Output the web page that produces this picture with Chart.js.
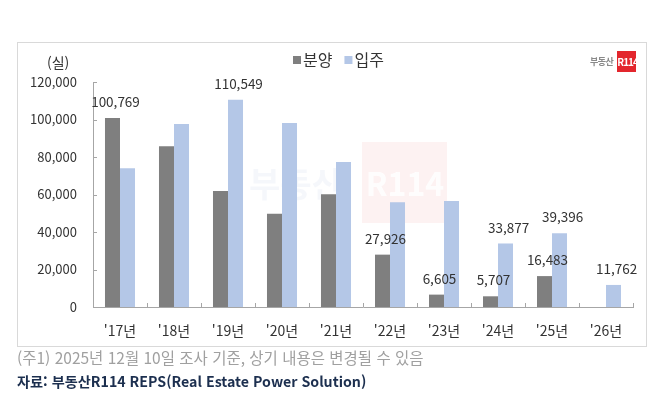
<!DOCTYPE html>
<html lang="ko">
<head>
<meta charset="utf-8">
<script src="https://cdn.jsdelivr.net/npm/chart.js@4.4.1/dist/chart.umd.min.js"></script>
<style>
  body { margin: 0; background: #fff; }
  #wrap { position: relative; width: 670px; height: 394px; font-family: 'Malgun Gothic', 'Noto Sans CJK KR', sans-serif; }
  #chart { position: absolute; left: 0; top: 0; }
  .unit { position: absolute; left: 47px; top: 52px; font-size: 14px; color: #333; }
  .logo { position: absolute; left: 590px; top: 51px; height: 21px; display: flex; align-items: center; }
  .logo .txt { font-size: 9px; font-weight: bold; color: #8a8a8a; margin-right: 4px; letter-spacing: -0.5px; }
  .logo .box { background: #e3262d; color: #fff; font-size: 10px; font-weight: bold; height: 21px; width: 19px; line-height: 21px; text-align: center; letter-spacing: -1px; }
  .note { position: absolute; left: 17px; top: 346px; font-size: 15.5px; line-height: 22px; color: #a0a0a0; white-space: nowrap; }
  .src { position: absolute; left: 17px; top: 371px; font-size: 14.2px; line-height: 20px; font-weight: bold; color: #1c2f4f; white-space: nowrap; }
</style>
</head>
<body>
<div id="wrap">
  <canvas id="chart" width="670" height="394"></canvas>
  <div class="unit">(실)</div>
  <div class="logo"><span class="txt">부동산</span><span class="box">R114</span></div>
  <div class="note">(주1) 2025년 12월 10일 조사 기준, 상기 내용은 변경될 수 있음</div>
  <div class="src">자료: 부동산R114 REPS(Real Estate Power Solution)</div>
</div>
<script>
// values
const years = ["'17년", "'18년", "'19년", "'20년", "'21년", "'22년", "'23년", "'24년", "'25년", "'26년"];
const presale = [100769, 85700, 61900, 49700, 60100, 27926, 6605, 5707, 16483, null];   // 분양
const moveIn = [74000, 97600, 110549, 98100, 77400, 55900, 56500, 33877, 39396, 11762];  // 입주
const yTicks = [0, 20000, 40000, 60000, 80000, 100000, 120000];

// only some bars carry a number in the original
const presaleLabeled = [0, 5, 6, 7, 8];
const moveInLabeled = [2, 7, 8, 9];

const axisColor = '#a6a6a6';
const fontFamily = "'Malgun Gothic', 'Noto Sans CJK KR', sans-serif";

const fmt = v => v.toLocaleString('en-US');

// frame around the chart and the faint watermark
const backdrop = {
    id: 'backdrop',
    beforeDraw(chart) {
        const ctx = chart.ctx;
        ctx.save();
        ctx.strokeStyle = '#d9d9d9';
        ctx.lineWidth = 1;
        ctx.strokeRect(17.5, 42.5, 629, 304);
        ctx.restore();
    },
    beforeDatasetsDraw(chart) {
        const ctx = chart.ctx;
        ctx.save();
        ctx.fillStyle = 'rgba(235, 90, 90, 0.08)';
        ctx.fillRect(362, 142, 85, 81);
        ctx.fillStyle = 'rgba(255, 255, 255, 0.9)';
        ctx.font = 'bold 32px ' + fontFamily;
        ctx.textAlign = 'center';
        ctx.textBaseline = 'middle';
        ctx.fillText('R114', 405, 184);
        ctx.fillStyle = 'rgba(200, 208, 235, 0.18)';
        ctx.font = 'bold 34px ' + fontFamily;
        ctx.fillText('부동산', 296, 184);
        ctx.restore();
    }
};

// small inward tick marks like the excel original
const innerTicks = {
    id: 'innerTicks',
    afterDatasetsDraw(chart) {
        const ctx = chart.ctx;
        const x = chart.scales.x, y = chart.scales.y;
        const area = chart.chartArea;
        ctx.save();
        ctx.strokeStyle = axisColor;
        ctx.lineWidth = 1;
        ctx.beginPath();
        y.ticks.forEach((t, i) => {
            const py = Math.round(y.getPixelForTick(i)) + 0.5;
            ctx.moveTo(area.left, py);
            ctx.lineTo(area.left + 4, py);
        });
        for (let i = 1; i <= years.length; i++) {
            const px = i < years.length
                ? (x.getPixelForTick(i - 1) + x.getPixelForTick(i)) / 2
                : area.right;
            const rx = Math.round(px) + 0.5;
            ctx.moveTo(rx, area.bottom);
            ctx.lineTo(rx, area.bottom - 4);
        }
        ctx.stroke();
        ctx.restore();
    }
};

// numbers above selected bars
const barNumbers = {
    id: 'barNumbers',
    afterDatasetsDraw(chart) {
        const ctx = chart.ctx;
        ctx.save();
        ctx.font = '13.5px ' + fontFamily;
        ctx.fillStyle = '#333';
        ctx.textAlign = 'center';
        ctx.textBaseline = 'middle';
        const picks = [presaleLabeled, moveInLabeled];
        chart.data.datasets.forEach((ds, di) => {
            const meta = chart.getDatasetMeta(di);
            picks[di].forEach(i => {
                const bar = meta.data[i];
                ctx.fillText(fmt(ds.data[i]), bar.x + 3, bar.y - 16);
            });
        });
        ctx.restore();
    }
};

// legend drawn at the top centre
const topLegend = {
    id: 'topLegend',
    afterDraw(chart) {
        const ctx = chart.ctx;
        ctx.save();
        ctx.font = '16px ' + fontFamily;
        ctx.textBaseline = 'middle';
        let px = 293;
        const cy = 60;
        chart.data.datasets.forEach(ds => {
            ctx.fillStyle = ds.backgroundColor;
            ctx.fillRect(px, cy - 4, 8, 8);
            px += 10;
            ctx.fillStyle = '#333';
            ctx.fillText(ds.label, px, cy);
            px += ctx.measureText(ds.label).width + 12;
        });
        ctx.restore();
    }
};

new Chart(document.getElementById('chart'), {
    type: 'bar',
    data: {
        labels: years,
        datasets: [
            { label: '분양', data: presale, backgroundColor: '#7f7f7f' },
            { label: '입주', data: moveIn, backgroundColor: '#b4c7e7' }
        ]
    },
    options: {
        responsive: false,
        animation: false,
        events: [],
        datasets: {
            bar: { categoryPercentage: 0.556, barPercentage: 1.0 }
        },
        layout: { padding: { top: 82, right: 37, left: 0, bottom: 0 } },
        plugins: {
            legend: { display: false },
            tooltip: { enabled: false }
        },
        scales: {
            x: {
                grid: { display: false, drawTicks: false },
                border: { color: axisColor },
                ticks: {
                    color: '#333',
                    font: { family: fontFamily, size: 14 },
                    padding: 15
                },
                afterFit(scale) { scale.height = 87; }
            },
            y: {
                min: 0,
                max: 120000,
                afterBuildTicks(scale) { scale.ticks = yTicks.map(v => ({ value: v })); },
                grid: { display: false, drawTicks: false },
                border: { color: axisColor },
                ticks: {
                    color: '#333',
                    font: { family: fontFamily, size: 13 },
                    padding: 16,
                    callback: v => fmt(v)
                },
                afterFit(scale) { scale.width = 93; }
            }
        }
    },
    plugins: [backdrop, innerTicks, barNumbers, topLegend]
});
</script>
</body>
</html>
